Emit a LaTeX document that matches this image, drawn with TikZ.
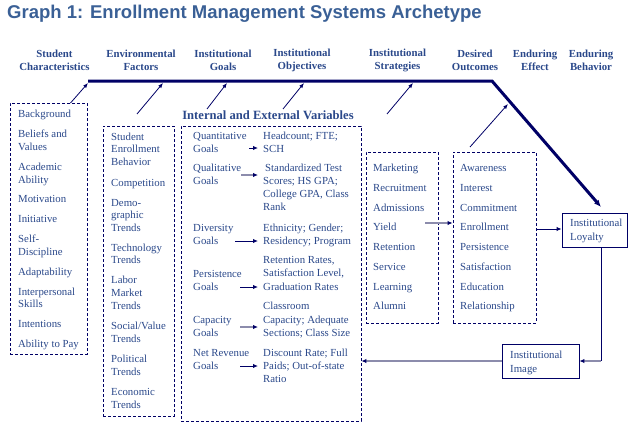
\documentclass[tikz,border=0pt]{standalone}
\usepackage{fontspec}
\setmainfont{Liberation Serif}
\newfontfamily\titlefont{Liberation Sans}
\usetikzlibrary{arrows.meta}
\definecolor{navy}{RGB}{0,0,102}
\definecolor{txtblue}{RGB}{42,72,138}
\definecolor{ttlblue}{RGB}{58,96,150}
\definecolor{grayarr}{RGB}{140,140,172}
\begin{document}
\begin{tikzpicture}[x=1pt,y=-1pt,
  txt/.style={font=\fontsize{10.8}{13}\selectfont, text=txtblue, inner sep=0pt, anchor=base west},
  head/.style={font=\fontsize{10.8}{13}\selectfont\bfseries, text=txtblue, inner sep=0pt, align=center},
  dbox/.style={draw=navy, line width=0.9pt, dash pattern=on 3pt off 2pt, inner sep=0pt},
  sbox/.style={draw=navy, line width=0.9pt, inner sep=0pt},
  thin/.style={draw=navy, line width=0.8pt, -{Latex[length=5pt,width=4pt]}},
  garr/.style={draw=grayarr, line width=1.6pt, -{Latex[length=5pt,width=4.5pt,color=navy]}},
  narr/.style={draw=navy, line width=1pt, -{Latex[length=5pt,width=4.5pt]}}
]
\useasboundingbox (0,0) rectangle (644,431);

% title
\node[anchor=west, inner sep=0pt, text=ttlblue, font=\titlefont\fontsize{18.5}{20}\selectfont\bfseries] (title) at (7,13.5) {Graph 1: Enrollment Management Systems Archetype};

% headings
\node[head] (h1) at (54.5,60) {Student\\Characteristics};
\node[head] (h2) at (141,60) {Environmental\\Factors};
\node[head] (h3) at (223,60) {Institutional\\Goals};
\node[head] (h4) at (302,60) {Institutional\\Objectives};
\node[head] (h5) at (397.5,60) {Institutional\\Strategies};
\node[head] (h6) at (475,60) {Desired\\Outcomes};
\node[head] (h7) at (535,60) {Enduring\\Effect};
\node[head] (h8) at (591,60) {Enduring\\Behavior};

% thick line
\coordinate (t1) at (88,81);
\coordinate (t2) at (492,81);
\coordinate (t3) at (601,207);
\draw[navy, line width=3pt, -{Latex[length=7pt,width=6pt]}] (t1) -- (t2) -- (t3);

% boxes
\node[dbox, minimum width=77pt, minimum height=251pt] (boxA) at (48.5,228.5) {};
\node[dbox, minimum width=71pt, minimum height=290pt] (boxB) at (138.5,271) {};
\node[dbox, minimum width=180pt, minimum height=295pt] (boxC) at (271,273.5) {};
\node[dbox, minimum width=72pt, minimum height=171pt] (boxD) at (402,237.5) {};
\node[dbox, minimum width=83pt, minimum height=171pt] (boxE) at (494.5,237.5) {};
\node[sbox, minimum width=65pt, minimum height=34pt] (loyal) at (594.5,230) {};
\node[sbox, minimum width=77pt, minimum height=34pt] (image) at (540.5,361) {};

\node[font=\fontsize{12.6}{14}\selectfont\bfseries, text=txtblue, inner sep=0pt, anchor=base] (ievar) at (268,119) {Internal and External Variables};

% box A text
\foreach \t/\y [count=\i] in {Background/114, Beliefs and/134, Values/147, Academic/167, Ability/180, Motivation/199, Initiative/219, Self-/239, Discipline/252, Adaptability/272, Interpersonal/292, Skills/304, Intentions/324, Ability to Pay/344}
  \node[txt, name=a\i] at (18,\y+3.5) {\t};

% box B text
\foreach \t/\y [count=\i] in {Student/137, Enrollment/149, Behavior/162, Competition/183, Demo-/203, graphic/215, Trends/228, Technology/248, Trends/260, Labor/280, Market/293, Trends/306, {Social/Value}/326, Trends/339, Political/359, Trends/372, Economic/392, Trends/405}
  \node[txt, name=b\i] at (111,\y+3.5) {\t};

% box C left column
\foreach \t/\y [count=\i] in {Quantitative/136, Goals/149, Qualitative/168, Goals/181, Diversity/228, Goals/241, Persistence/274, Goals/287, Capacity/320, Goals/333, Net Revenue/353, Goals/366}
  \node[txt, name=cl\i] at (193,\y+3.5) {\t};

% box C right column
\foreach \t/\y [count=\i] in {Headcount; FTE;/136, SCH/149, Scores; HS GPA;/181, {College GPA, Class}/194, Rank/207, Ethnicity; Gender;/228, Residency; Program/241, {Retention Rates,}/260, {Satisfaction Level,}/273, Graduation Rates/287, Classroom/306, Capacity; Adequate/320, Sections; Class Size/333, Discount Rate; Full/353, Paids; Out-of-state/366, Ratio/379}
  \node[txt, name=cr\i] at (263,\y+3.5) {\t};
\node[txt] (cr0) at (265,168+3.5) {Standardized Test};

% box D text
\foreach \t/\y [count=\i] in {Marketing/168, Recruitment/188, Admissions/208, Yield/227, Retention/247, Service/267, Learning/287, Alumni/306}
  \node[txt, name=d\i] at (373,\y+3.5) {\t};

% box E text
\foreach \t/\y [count=\i] in {Awareness/168, Interest/188, Commitment/208, Enrollment/227, Persistence/247, Satisfaction/267, Education/287, Relationship/306}
  \node[txt, name=e\i] at (460,\y+3.5) {\t};

% loyalty / image text
\node[txt, name=ly1] at (570,226.5) {Institutional};
\node[txt, name=ly2] at (570,240.5) {Loyalty};
\node[txt, name=im1] at (510,358.5) {Institutional};
\node[txt, name=im2] at (510,372.5) {Image};

% arrows up to thick line
\coordinate (sA) at (70.5,103);  \coordinate (eA) at (88,83);
\coordinate (sB) at (137,114);   \coordinate (eB) at (163,83);
\coordinate (sC) at (207,109);   \coordinate (eC) at (227,83);
\coordinate (sD) at (283,109);   \coordinate (eD) at (304,83);
\coordinate (sE) at (387,114);   \coordinate (eE) at (413,83);
\coordinate (sF) at (470,147);   \coordinate (eF) at (508,104);
\foreach \k in {A,B,C,D,E,F} \draw[thin] (s\k) -- (e\k);

% box C inner arrows
\coordinate (r1s) at (249,148); \coordinate (r1e) at (258,148);
\coordinate (r2s) at (241,175); \coordinate (r2e) at (258,175);
\coordinate (r3s) at (235,241); \coordinate (r3e) at (258,241);
\coordinate (r4s) at (240,287); \coordinate (r4e) at (258,287);
\coordinate (r5s) at (240,327); \coordinate (r5e) at (258,327);
\coordinate (r6s) at (240,366); \coordinate (r6e) at (258,366);
\draw[narr] (r1s) -- (r1e);
\draw[garr] (r2s) -- (r2e);
\draw[narr] (r3s) -- (r3e);
\draw[narr] (r4s) -- (r4e);
\draw[garr] (r5s) -- (r5e);
\draw[narr] (r6s) -- (r6e);

% flow arrows
\coordinate (ys) at (425,223);
\draw[garr] (ys) -- (boxE.west |- ys);
\draw[narr] (boxE.east |- 0,229) -- (loyal.west |- 0,229);
\coordinate (turn) at (601,361);
\draw[navy, line width=1pt] (loyal.south -| turn) -- (turn);
\draw[garr] (turn) -- (image.east);
\draw[garr] (image.west) -- (boxC.east |- image.west);
\end{tikzpicture}
\end{document}
